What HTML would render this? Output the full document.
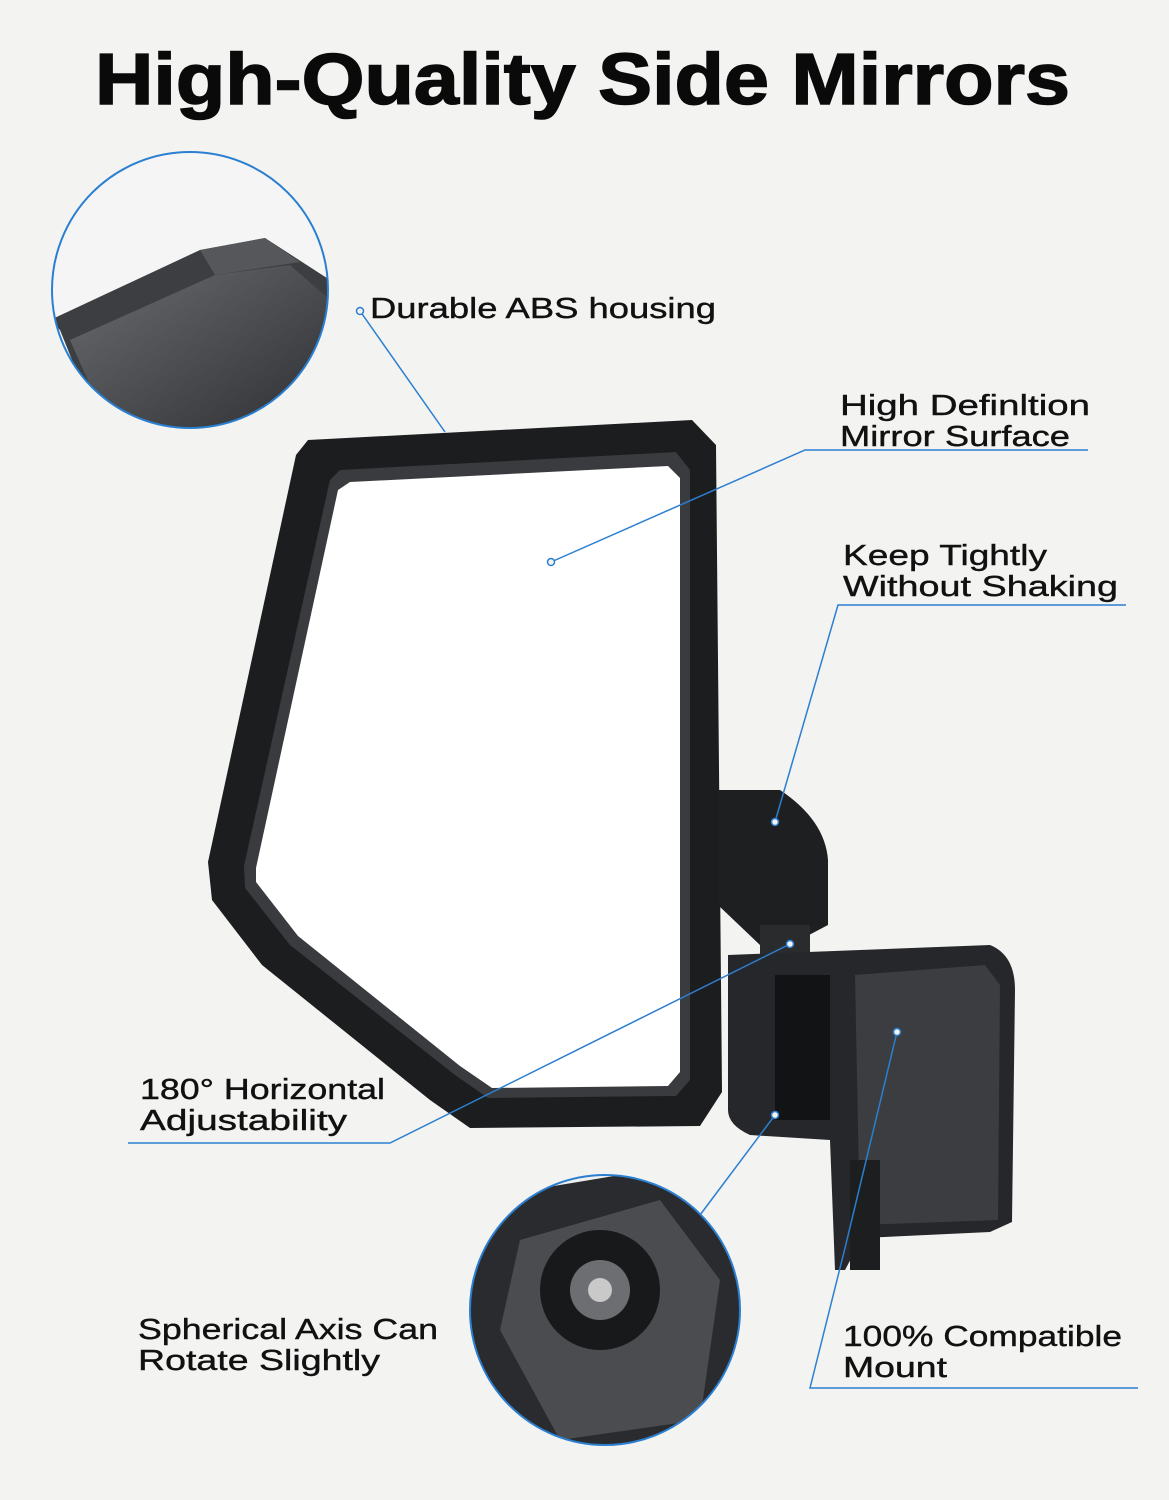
<!DOCTYPE html>
<html><head><meta charset="utf-8"><style>
html,body{margin:0;padding:0;background:#f3f3f2;}
svg{display:block}
text{font-family:"Liberation Sans","DejaVu Sans",sans-serif;}
</style></head><body>
<svg width="1169" height="1500" viewBox="0 0 1169 1500" xmlns="http://www.w3.org/2000/svg">
<defs>
<clipPath id="c1"><circle cx="190" cy="290" r="138"/></clipPath>
<clipPath id="c2"><circle cx="605" cy="1310" r="135"/></clipPath>
<linearGradient id="g1" x1="0" y1="0" x2="1" y2="1"><stop offset="0" stop-color="#6a6c70"/><stop offset="1" stop-color="#2e3033"/></linearGradient>
</defs>
<rect width="1169" height="1500" fill="#f3f3f2"/>
<text x="95" y="104" font-size="72" font-weight="bold" fill="#0a0a0a" textLength="975" lengthAdjust="spacingAndGlyphs" stroke="#0a0a0a" stroke-width="1.5">High-Quality Side Mirrors</text>

<g clip-path="url(#c1)">
<rect x="50" y="150" width="280" height="280" fill="#f5f5f5"/>
<polygon points="200,250 265,238 330,280 330,430 100,430 60,330 50,320 200,250" fill="#3c3e41"/>
<polygon points="215,275 290,265 330,300 330,430 110,430 70,340" fill="url(#g1)"/>
<polygon points="200,250 265,238 300,262 215,275" fill="#55575b"/>
</g>
<circle cx="190" cy="290" r="138" fill="none" stroke="#2b7fd0" stroke-width="2"/>

<polygon points="308,440 692,420 716,445 722,1092 700,1126 470,1128 430,1100 262,965 212,900 208,862 296,455" fill="#1c1d1f"/>
<polygon points="340,470 676,452 690,470 690,1080 676,1096 488,1098 455,1075 290,945 245,888 244,866 330,480" fill="#3a3b3e"/>
<polygon points="350,482 668,466 680,478 680,1072 668,1086 492,1088 460,1066 298,936 256,882 256,868 338,490" fill="#ffffff"/>

<path d="M718,790 L780,790 Q825,820 828,860 L828,925 L790,945 L760,945 L718,905 Z" fill="#1e1f21"/>
<rect x="760" y="925" width="50" height="30" fill="#2a2b2d"/>
<path d="M728,955 L990,945 Q1015,955 1015,990 L1012,1222 L990,1232 L862,1238 L845,1270 L835,1270 L830,1140 L750,1135 Q728,1125 728,1110 Z" fill="#26272a"/>
<path d="M855,975 L985,965 L1000,985 L998,1220 L860,1225 Z" fill="#3c3d40"/>
<rect x="775" y="975" width="55" height="145" fill="#121314"/>
<rect x="850" y="1160" width="30" height="110" fill="#1d1e20"/>

<g clip-path="url(#c2)">
<rect x="460" y="1170" width="300" height="280" fill="#f0f0f0"/>
<polygon points="470,1200 650,1170 760,1220 760,1450 470,1450" fill="#2a2b2e"/>
<polygon points="520,1240 660,1200 720,1280 700,1420 560,1440 500,1330" fill="#4a4c50"/>
<circle cx="600" cy="1290" r="60" fill="#18191b"/>
<circle cx="600" cy="1290" r="30" fill="#6c6e71"/>
<circle cx="600" cy="1290" r="12" fill="#c9c9c9"/>
</g>
<circle cx="605" cy="1310" r="135" fill="none" stroke="#2b7fd0" stroke-width="2"/>

<g stroke="#2b7fd0" stroke-width="1.5" fill="none">
<line x1="360" y1="311" x2="445" y2="432"/>
<polyline points="551,562 805,450 1088,450"/>
<polyline points="775,822 838,605 1126,605"/>
<polyline points="790,944 390,1143 128,1143"/>
<line x1="775" y1="1115" x2="700" y2="1215"/>
<polyline points="897,1032 845,1248 810,1388 1138,1388"/>
</g>
<g fill="#f3f3f2" stroke="#2b7fd0" stroke-width="1.5">
<circle cx="360" cy="311" r="3.5"/>
<circle cx="551" cy="562" r="3.5"/>
<circle cx="775" cy="822" r="3.5"/>
<circle cx="790" cy="944" r="3.5"/>
<circle cx="775" cy="1115" r="3.5"/>
<circle cx="897" cy="1032" r="3.5"/>
</g>

<g font-size="29" fill="#111" stroke="#111" stroke-width="0.4" lengthAdjust="spacingAndGlyphs">
<text x="370" y="318" textLength="346" lengthAdjust="spacingAndGlyphs">Durable ABS housing</text>
<text x="840" y="415" textLength="250" lengthAdjust="spacingAndGlyphs">High Definltion</text>
<text x="840" y="446" textLength="230" lengthAdjust="spacingAndGlyphs">Mirror Surface</text>
<text x="843" y="565" textLength="204" lengthAdjust="spacingAndGlyphs">Keep Tightly</text>
<text x="843" y="596" textLength="275" lengthAdjust="spacingAndGlyphs">Without Shaking</text>
<text x="140" y="1099" textLength="245" lengthAdjust="spacingAndGlyphs">180° Horizontal</text>
<text x="140" y="1130" textLength="207" lengthAdjust="spacingAndGlyphs">Adjustability</text>
<text x="138" y="1339" textLength="300" lengthAdjust="spacingAndGlyphs">Spherical Axis Can</text>
<text x="138" y="1370" textLength="242" lengthAdjust="spacingAndGlyphs">Rotate Slightly</text>
<text x="843" y="1346" textLength="279" lengthAdjust="spacingAndGlyphs">100% Compatible</text>
<text x="843" y="1377" textLength="104" lengthAdjust="spacingAndGlyphs">Mount</text>
</g>
</svg>
</body></html>
